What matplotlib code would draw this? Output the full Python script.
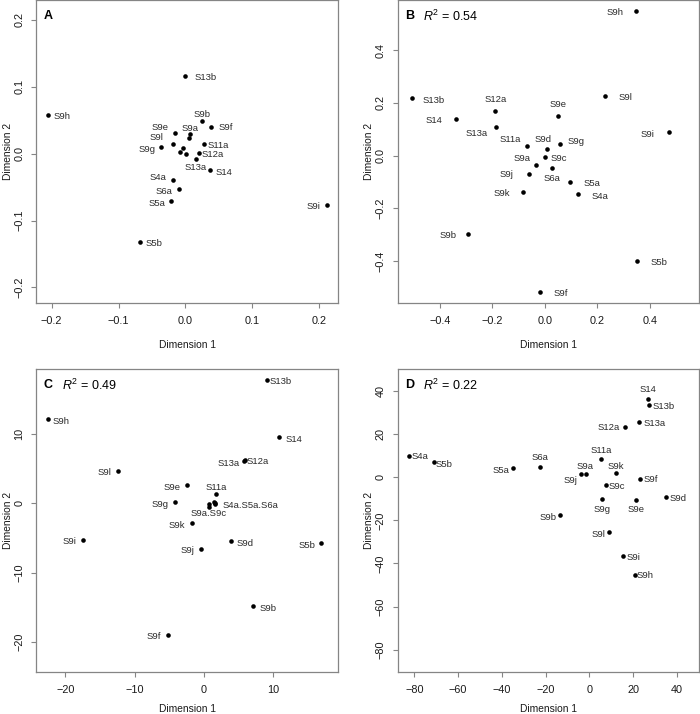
import numpy as np
import matplotlib
matplotlib.use('Agg')
import matplotlib.pyplot as plt

plt.rcParams['font.family'] = ['Liberation Sans', 'DejaVu Sans']
plt.rcParams['mathtext.fontset'] = 'custom'
plt.rcParams['mathtext.it'] = 'Liberation Sans:italic'
plt.rcParams['mathtext.rm'] = 'Liberation Sans'

# ---- Panel A ----
lab_a = ['S13b', 'S9h', 'S9b', 'S9f', 'S9e', 'S9a', '', 'S9l', 'S11a', 'S9g',
         '', '', '', 'S12a', 'S13a', 'S14', 'S4a', 'S6a', 'S5a', 'S5b', 'S9i']
x_a = [0.000, -0.206, 0.025, 0.039, -0.016, 0.0075, 0.0055, -0.018, 0.028, -0.036,
       -0.003, -0.008, 0.001, 0.020, 0.016, 0.037, -0.019, -0.010, -0.021, -0.068, 0.212]
y_a = [0.116, 0.058, 0.049, 0.040, 0.031, 0.029, 0.024, 0.015, 0.014, 0.010,
       0.008, 0.002, 0.000, 0.001, -0.008, -0.025, -0.039, -0.053, -0.071, -0.132, -0.077]

# ---- Panel B ----
lab_b = ['S9h', 'S13b', 'S9l', 'S12a', 'S9e', 'S14', 'S13a', 'S9i', 'S11a', 'S9g', 'S9d',
         'S9c', 'S9a', 'S6a', 'S9j', 'S5a', 'S9k', 'S4a', 'S9b', 'S5b', 'S9f']
x_b = [0.347, -0.508, 0.229, -0.188, 0.052, -0.340, -0.187, 0.472, -0.069, 0.057, 0.008,
       -0.001, -0.032, 0.027, -0.061, 0.098, -0.084, 0.128, -0.292, 0.353, -0.020]
y_b = [0.548, 0.217, 0.227, 0.170, 0.152, 0.139, 0.110, 0.088, 0.038, 0.044, 0.027,
       -0.004, -0.035, -0.047, -0.068, -0.101, -0.138, -0.146, -0.297, -0.399, -0.515]

# ---- Panel C ----  (coinciding samples share one label)
lab_c = ['S13b', 'S9h', 'S14', 'S13a', 'S12a', 'S9l', 'S9e', 'S11a', 'S9g',
         'S4a.S5a.S6a', '', '', 'S9a.S9c', '', 'S9k', 'S9i', 'S9d', 'S5b', 'S9j', 'S9b', 'S9f']
x_c = [9.05, -22.53, 10.88, 5.73, 5.92, -12.37, -2.41, 1.73, -4.24,
       1.55, 1.49, 1.59, 0.72, 0.72, -1.73, -17.43, 3.85, 16.90, -0.43, 7.13, -5.15]
y_c = [17.67, 12.10, 9.46, 6.05, 6.19, 4.56, 2.59, 1.34, 0.10,
       0.00, 0.19, -0.14, -0.14, -0.62, -2.93, -5.33, -5.47, -5.76, -6.53, -14.83, -18.96]

# ---- Panel D ----
lab_d = ['S14', 'S13b', 'S13a', 'S12a', 'S4a', 'S5b', 'S11a', 'S6a', 'S5a', 'S9j', 'S9a',
         'S9k', 'S9f', 'S9c', 'S9g', 'S9e', 'S9d', 'S9b', 'S9l', 'S9i', 'S9h']
x_d = [26.9, 27.2, 22.4, 16.3, -82.3, -71.2, 5.3, -22.4, -35.1, -3.8, -1.4,
       12.0, 23.0, 7.5, 5.9, 21.4, 35.1, -13.5, 9.1, 15.1, 20.8]
y_d = [36.4, 33.8, 25.5, 23.4, 10.1, 7.1, 8.5, 4.8, 4.2, 1.4, 1.4,
       1.9, -0.8, -3.4, -10.2, -10.5, -9.1, -17.7, -25.4, -36.4, -45.2]

# label placement (dx px, dy px, ha)
pos_a = [(9, -1, 'left'), (6, -2, 'left'), (0, 6, 'center'), (7, -1, 'left'), (-6, 5, 'right'),
         (0, 6, 'center'), None, (-10, 6, 'right'), (3, -1, 'left'), (-6, -3, 'right'),
         None, None, None, (3, -2, 'left'), (0, -8, 'center'), (5, -2, 'left'),
         (-6, 2, 'right'), (-6, -2, 'right'), (-6, -2, 'right'), (6, -2, 'left'), (-7, -1, 'right')]
pos_b = [(-12, -2, 'right'), (11, -2, 'left'), (14, -2, 'left'), (0, 11, 'center'), (0, 11, 'center'),
         (-13, -2, 'right'), (-8, -7, 'right'), (-14, -2, 'right'), (-6, 6, 'right'), (8, 3, 'left'),
         (-4, 9, 'center'), (6, -2, 'left'), (-6, 6, 'right'), (0, -10, 'center'), (-15, -1, 'right'),
         (13, -1, 'left'), (-13, -1, 'right'), (13, -2, 'left'), (-12, -1, 'right'), (13, -2, 'left'),
         (14, -2, 'left')]
pos_c = [(3, -1, 'left'), (5, -2, 'left'), (6, -2, 'left'), (-4, -2, 'right'), (2, -1, 'left'),
         (-7, -1, 'right'), (-7, -2, 'right'), (0, 6, 'center'), (-6, -2, 'right'),
         (8, -2, 'left'), None, None, (0, -9, 'center'), None, (-7, -2, 'right'),
         (-7, -1, 'right'), (6, -2, 'left'), (-6, -2, 'right'), (-7, -2, 'right'),
         (6, -2, 'left'), (-7, -2, 'right')]
pos_d = [(0, 9, 'center'), (4, -2, 'left'), (5, -1, 'left'), (-5, -1, 'right'), (2, -1, 'left'),
         (2, -2, 'left'), (0, 9, 'center'), (0, 9, 'center'), (-3, -2, 'right'), (-4, -6, 'right'),
         (-1, 8, 'center'), (0, 7, 'center'), (4, 0, 'left'), (3, -2, 'left'), (0, -10, 'center'),
         (0, -10, 'center'), (3, -2, 'left'), (-3, -2, 'right'), (-4, -2, 'right'), (4, -2, 'left'),
         (2, -1, 'left')]

PX = 0.72  # points per pixel at dpi 100
GREY = '#858585'
INK = '#1a1a1a'


def draw_panel(ax, xs, ys, labs, pos, xlim, ylim, xt, yt, xfmt, letter, r2=None, xlpad=10):
    ax.plot(xs, ys, 'o', color='black', markersize=3.3, markeredgewidth=0)
    for x, y, lab, p in zip(xs, ys, labs, pos):
        if not lab or p is None:
            continue
        dx, dy, ha = p
        ax.annotate(lab, (x, y), xytext=(dx * PX, dy * PX), textcoords='offset points',
                    ha=ha, va='center', fontsize=6.8, color='#2a2a2a')
    ax.set_xlim(xlim)
    ax.set_ylim(ylim)
    ax.set_xticks(xt)
    ax.set_yticks(yt)
    ax.set_xticklabels([xfmt(v) for v in xt])
    ax.set_yticklabels([xfmt(v) for v in yt], rotation=90, va='center')
    for s in ax.spines.values():
        s.set_color(GREY)
        s.set_linewidth(0.9)
    ax.tick_params(length=3.5, width=0.8, color=GREY, labelsize=7.8, labelcolor=INK)
    ax.tick_params(axis='x', pad=6)
    ax.tick_params(axis='y', pad=5)
    ax.set_xlabel('Dimension 1', fontsize=7.4, color=INK, labelpad=xlpad)
    ax.set_ylabel('Dimension 2', fontsize=7.4, color=INK)
    ax.yaxis.set_label_coords(-0.078, 0.5)
    ax.text(0.024, 0.968, letter, transform=ax.transAxes, fontsize=9, fontweight='bold',
            ha='left', va='top')
    if r2 is not None:
        ax.text(0.085, 0.972, r'$R^2$ = ' + r2, transform=ax.transAxes, fontsize=9,
                ha='left', va='top')


def f1(v):
    return ('%.1f' % v).replace('-', '\u2212')


def f0(v):
    return ('%d' % v).replace('-', '\u2212')


fig = plt.figure(figsize=(7.0, 7.14), dpi=100)
axA = fig.add_axes([0.0519, 0.5761, 0.4306, 0.4233])
axB = fig.add_axes([0.5681, 0.5761, 0.4304, 0.4233])
axC = fig.add_axes([0.0519, 0.0588, 0.4306, 0.4241])
axD = fig.add_axes([0.5681, 0.0588, 0.4304, 0.4241])

draw_panel(axA, x_a, y_a, lab_a, pos_a, (-0.2229, 0.2279), (-0.2229, 0.2292),
           [-0.2, -0.1, 0.0, 0.1, 0.2], [-0.2, -0.1, 0.0, 0.1, 0.2], f1, 'A')
draw_panel(axB, x_b, y_b, lab_b, pos_b, (-0.561, 0.588), (-0.557, 0.588),
           [-0.4, -0.2, 0.0, 0.2, 0.4], [-0.4, -0.2, 0.0, 0.2, 0.4], f1, 'B', '0.54')
draw_panel(axC, x_c, y_c, lab_c, pos_c, (-24.2, 19.3), (-24.3, 19.27),
           [-20, -10, 0, 10], [-20, -10, 0, 10], f0, 'C', '0.49', xlpad=6)
draw_panel(axD, x_d, y_d, lab_d, pos_d, (-87.6, 50.0), (-90.4, 50.2),
           [-80, -60, -40, -20, 0, 20, 40], [-80, -60, -40, -20, 0, 20, 40], f0, 'D', '0.22', xlpad=6)

fig.savefig('out.png', dpi=100)
